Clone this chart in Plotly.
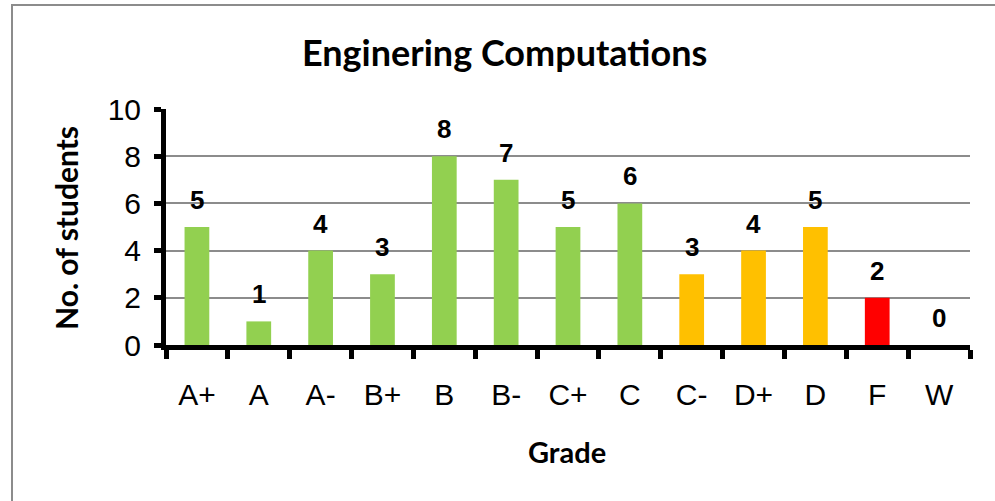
import plotly.graph_objects as go

grades = ["A+", "A", "A-", "B+", "B", "B-", "C+", "C", "C-", "D+", "D", "F", "W"]
students = [5, 1, 4, 3, 8, 7, 5, 6, 3, 4, 5, 2, 0]
bar_colors = ["#92D050"] * 8 + ["#FFC000"] * 3 + ["#FF0000", "#FF0000"]
y_ticks = [0, 2, 4, 6, 8, 10]

W, H = 995, 501
L, R, T, B = 166, 25, 109, 156
pw, ph = W - L - R, H - T - B

def px_x(p):
    return (p - L) / pw

def px_y(p):
    return (H - B - p) / ph

TITLE_FONT = "Lato, Open Sans, sans-serif"
ARIAL = "Liberation Sans, Arial, sans-serif"

fig = go.Figure()
fig.add_trace(go.Bar(
    x=grades, y=students, marker=dict(color=bar_colors, line=dict(width=0)),
    width=0.40, hoverinfo="x+y",
))

for g, v in zip(grades, students):
    fig.add_annotation(x=g, y=v, text="<b>%d</b>" % v, showarrow=False, yanchor="middle",
                       yshift=27, font=dict(family=ARIAL, size=26, color="black"))

fig.add_annotation(xref="paper", yref="paper", x=px_x(504), y=px_y(52), text="<b>Enginering Computations</b>",
                   showarrow=False, xanchor="center", yanchor="middle",
                   font=dict(family=TITLE_FONT, size=36, color="black"))
fig.add_annotation(xref="paper", yref="paper", x=px_x(567), y=px_y(451), text="<b>Grade</b>",
                   showarrow=False, xanchor="center", yanchor="middle",
                   font=dict(family=TITLE_FONT, size=29, color="black"))
fig.add_annotation(xref="paper", yref="paper", x=px_x(66), y=px_y(228), text="<b>No. of students</b>",
                   showarrow=False, xanchor="center", yanchor="middle", textangle=-90,
                   font=dict(family=TITLE_FONT, size=30, color="black"))

fig.add_shape(type="rect", xref="paper", yref="paper",
              x0=px_x(12), x1=px_x(1010), y0=px_y(5), y1=px_y(520),
              line=dict(color="#8C8C8C", width=2), layer="below")

fig.update_layout(
    width=W, height=H, autosize=False,
    margin=dict(l=L, r=R, t=T, b=B, pad=0),
    paper_bgcolor="white", plot_bgcolor="white",
    showlegend=False,
    font=dict(family=ARIAL, size=30, color="black"),
)
fig.update_yaxes(
    range=[0, 10], tickvals=y_ticks, ticktext=[str(t) for t in y_ticks],
    showgrid=True, gridcolor="#8C8C8C", gridwidth=1.5,
    showline=True, linecolor="black", linewidth=5,
    ticks="outside", ticklen=7, tickwidth=5, tickcolor="black",
    tickfont=dict(family=ARIAL, size=30), ticklabelstandoff=7,
    zeroline=False, fixedrange=True,
)
fig.update_xaxes(
    showline=True, linecolor="black", linewidth=5,
    ticks="outside", tickson="boundaries", ticklen=9, tickwidth=5, tickcolor="black",
    tickfont=dict(family=ARIAL, size=30), ticklabelstandoff=19,
    showgrid=False, fixedrange=True,
)

fig.write_html("out.html", config={"displayModeBar": False},
               post_script="document.body.style.margin='0';")
